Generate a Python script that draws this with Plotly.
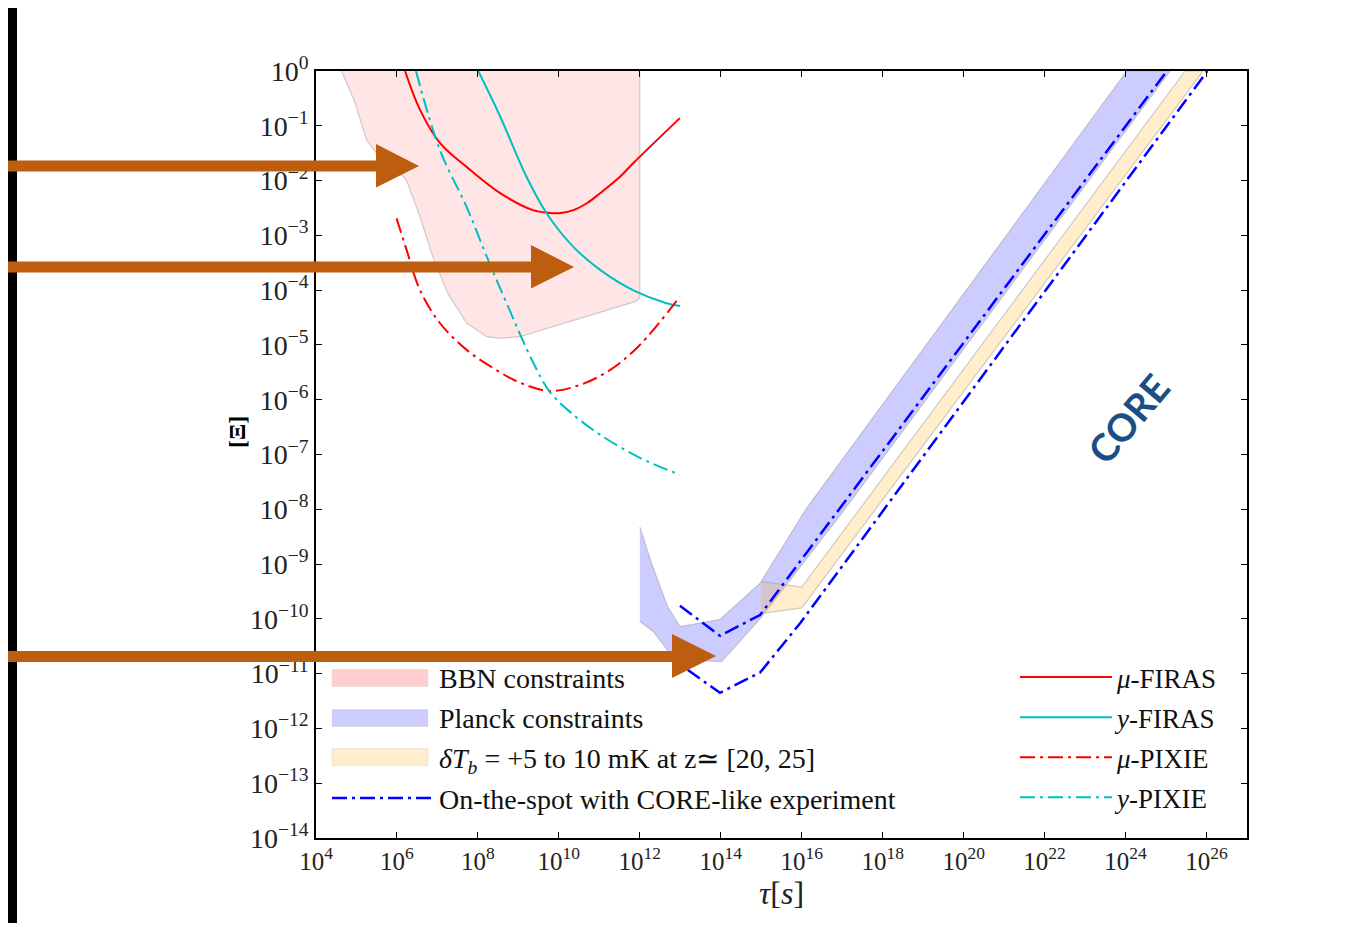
import plotly.graph_objects as go

# ---------------- data (log10 exponents) ----------------
# BBN constraints region (polygon)
bbn_log_tau = [4.63, 4.95, 5.25, 5.75, 6.15, 6.25, 6.55, 6.89, 7.25, 7.72, 8.22, 8.55, 9.04, 11.88, 12.0, 12.0]
bbn_log_xi = [0.0, -0.55, -1.26, -1.75, -1.92, -2.02, -2.62, -3.40, -4.05, -4.60, -4.85, -4.88, -4.85, -4.21, -4.15, 0.0]

# Planck constraints region (polygon)
planck_log_tau = [12.00, 12.32, 12.69, 12.99, 13.98, 14.97, 16.10, 24.03, 25.10, 16.94, 14.97, 14.02, 12.87, 12.33, 12.00]
planck_log_xi = [-8.32, -9.05, -9.78, -10.14, -10.01, -9.35, -8.00, 0.0, 0.0, -8.12, -10.00, -10.78, -10.75, -10.23, -10.05]

# 21cm brightness-temperature band (polygon)
tb_log_tau = [15.01, 16.00, 25.47, 25.92, 16.00, 15.01]
tb_log_xi = [-9.32, -9.42, 0.0, 0.0, -9.80, -9.90]

# FIRAS / PIXIE spectral distortion curves
mu_firas_log_tau = [6.20, 6.57, 7.06, 7.72, 8.55, 9.36, 9.78, 10.05, 10.36, 10.70, 11.02, 11.51, 11.84, 12.99]
mu_firas_log_xi = [0.0, -0.71, -1.31, -1.75, -2.23, -2.54, -2.59, -2.59, -2.54, -2.41, -2.23, -1.93, -1.68, -0.86]

y_firas_log_tau = [8.01, 8.55, 9.20, 9.70, 10.36, 11.02, 11.83, 12.66, 12.99]
y_firas_log_xi = [0.0, -0.83, -1.93, -2.60, -3.21, -3.63, -4.00, -4.24, -4.29]

mu_pixie_log_tau = [5.99, 6.24, 6.57, 7.06, 7.72, 8.37, 9.04, 9.78, 10.52, 11.26, 12.00, 12.99]
mu_pixie_log_xi = [-2.69, -3.27, -4.00, -4.60, -5.09, -5.42, -5.69, -5.84, -5.73, -5.46, -5.00, -4.12]

y_pixie_log_tau = [6.47, 7.06, 7.72, 8.22, 8.71, 9.37, 9.78, 10.27, 11.02, 12.00, 12.99]
y_pixie_log_xi = [0.0, -1.44, -2.48, -3.39, -4.24, -5.33, -5.86, -6.22, -6.64, -7.06, -7.37]

# On-the-spot with CORE-like experiment (two bounds)
core_hi_log_tau = [12.99, 13.98, 14.97, 25.02]
core_hi_log_xi = [-9.76, -10.31, -9.93, 0.0]
core_lo_log_tau = [13.18, 13.98, 14.97, 15.96, 26.02]
core_lo_log_xi = [-10.93, -11.35, -10.98, -10.08, 0.0]

x_tick_exps = list(range(4, 27, 2))
y_tick_exps = list(range(0, -15, -1))

# ---------------- layout geometry ----------------
# page pixels of the reference; the page body adds an 8px margin around the figure
PAGE_W, PAGE_H, OFF = 1367, 931, 8
W, H = PAGE_W - OFF, PAGE_H - 2 * OFF
L, R, T, B = 316, 1247, 71, 838  # plot area in page pixels


def px(x):
    return (x - L) / (R - L)


def py(y):
    return (B - y) / (B - T)


def pw(v):
    return [10.0 ** e for e in v]


SERIF = "Liberation Serif"
EDGE = "rgba(150,150,150,0.45)"
DD = "15px,5px,3px,5px"
CLEAR = "rgba(0,0,0,0)"

fig = go.Figure()

# filled regions
fig.add_trace(go.Scatter(x=pw(bbn_log_tau), y=pw(bbn_log_xi), fill="toself", mode="lines",
                         fillcolor="rgba(255,0,0,0.10)", line=dict(color=EDGE, width=1.2),
                         showlegend=False, hoverinfo="skip"))
fig.add_trace(go.Scatter(x=pw(planck_log_tau), y=pw(planck_log_xi), fill="toself", mode="lines",
                         fillcolor="rgba(0,0,255,0.20)", line=dict(color=EDGE, width=1.2),
                         showlegend=False, hoverinfo="skip"))
fig.add_trace(go.Scatter(x=pw(tb_log_tau), y=pw(tb_log_xi), fill="toself", mode="lines",
                         fillcolor="rgba(255,165,0,0.20)", line=dict(color=EDGE, width=1.2),
                         showlegend=False, hoverinfo="skip"))

# curves
fig.add_trace(go.Scatter(x=pw(mu_firas_log_tau), y=pw(mu_firas_log_xi), mode="lines",
                         line=dict(color="red", width=2, shape="spline"),
                         name="<i>μ</i>-FIRAS", legend="legend2", legendgroup="a"))
fig.add_trace(go.Scatter(x=pw(y_firas_log_tau), y=pw(y_firas_log_xi), mode="lines",
                         line=dict(color="#00BFBF", width=2, shape="spline"),
                         name="<i>y</i>-FIRAS", legend="legend2", legendgroup="b"))
fig.add_trace(go.Scatter(x=pw(mu_pixie_log_tau), y=pw(mu_pixie_log_xi), mode="lines",
                         line=dict(color="red", width=2, dash=DD, shape="spline"),
                         name="<i>μ</i>-PIXIE", legend="legend2", legendgroup="c"))
fig.add_trace(go.Scatter(x=pw(y_pixie_log_tau), y=pw(y_pixie_log_xi), mode="lines",
                         line=dict(color="#00BFBF", width=2, dash=DD, shape="spline"),
                         name="<i>y</i>-PIXIE", legend="legend2", legendgroup="d"))

fig.add_trace(go.Scatter(x=pw(core_hi_log_tau), y=pw(core_hi_log_xi), mode="lines",
                         line=dict(color="blue", width=2.5, dash=DD),
                         showlegend=False, hoverinfo="skip"))

# legend entries for the left legend (patches drawn as shapes below)
fig.add_trace(go.Scatter(x=[None], y=[None], mode="lines", line=dict(color=CLEAR, width=2),
                         name="BBN constraints", legend="legend", legendgroup="e"))
fig.add_trace(go.Scatter(x=[None], y=[None], mode="lines", line=dict(color=CLEAR, width=2),
                         name="Planck constraints", legend="legend", legendgroup="f"))
fig.add_trace(go.Scatter(x=[None], y=[None], mode="lines", line=dict(color=CLEAR, width=2),
                         name="<i>δT<sub>b</sub></i> = +5 to 10 mK at z≃ [20, 25]", legend="legend", legendgroup="g"))
fig.add_trace(go.Scatter(x=pw(core_lo_log_tau), y=pw(core_lo_log_xi), mode="lines",
                         line=dict(color="blue", width=2.5, dash=DD),
                         name="On-the-spot with CORE-like experiment", legend="legend", legendgroup="h"))

# ---------------- decorations ----------------
ORANGE = "#BD5D10"
shapes = []
# legend patches (page pixels)
patch_colors = ["#FFCECE", "#CCCCFF", "#FFEDCC"]
patch_centers = [678, 718, 757]
for c, yc in zip(patch_colors, patch_centers):
    shapes.append(dict(type="rect", xref="paper", yref="paper", x0=px(332), x1=px(428),
                       y0=py(yc + 8.5), y1=py(yc - 8.5), fillcolor=c,
                       line=dict(color="rgba(200,200,200,0.4)", width=0.8), layer="below"))

# black frame strips
shapes.append(dict(type="rect", xref="paper", yref="paper", x0=px(0), x1=px(17), y0=py(PAGE_H + 10), y1=py(-10),
                   fillcolor="black", line=dict(width=0), layer="above"))
shapes.append(dict(type="rect", xref="paper", yref="paper", x0=px(-10), x1=px(PAGE_W + 10), y0=py(7), y1=py(-10),
                   fillcolor="black", line=dict(width=0), layer="above"))
shapes.append(dict(type="rect", xref="paper", yref="paper", x0=px(1360), x1=px(PAGE_W + 10), y0=py(PAGE_H + 10),
                   y1=py(-10), fillcolor="black", line=dict(width=0), layer="above"))

# arrows: (shaft top, shaft bottom, head left, head top, head bottom, tip x, tip y)
arrows = [
    (160.5, 171.5, 375, 144, 187.5, 419, 166),
    (261.5, 272.5, 530, 245, 288.5, 574, 267),
    (651.0, 662.0, 671, 634, 678.0, 716, 656),
]
for st, sb, hl, ht, hb, tx, ty in arrows:
    path = (f"M{px(-10)},{py(st)} L{px(hl + 1)},{py(st)} L{px(hl + 1)},{py(ht)} L{px(tx)},{py(ty)} "
            f"L{px(hl + 1)},{py(hb)} L{px(hl + 1)},{py(sb)} L{px(-10)},{py(sb)} Z")
    shapes.append(dict(type="path", xref="paper", yref="paper", path=path,
                       fillcolor=ORANGE, line=dict(width=0), layer="above"))

annotations = [
    dict(text="<b>[Ξ]</b>", xref="paper", yref="paper", x=px(237), y=py(432), showarrow=False,
         textangle=-90, font=dict(family=SERIF, size=24, color="black"), xanchor="center", yanchor="middle"),
    dict(text="<b>CORE</b>", xref="paper", yref="paper", x=px(1128), y=py(418), showarrow=False,
         textangle=-50, font=dict(family="Lato", size=38, color="#1B4F84"), xanchor="center", yanchor="middle"),
]

axis_common = dict(type="log", showgrid=False, zeroline=False, showline=True, linecolor="black",
                   linewidth=1.5, mirror="ticks", ticks="inside", ticklen=6, tickwidth=1,
                   tickcolor="black")

fig.update_layout(
    width=W, height=H,
    margin=dict(l=L - OFF, r=W - (R - OFF), t=T - OFF, b=H - (B - OFF), pad=0),
    paper_bgcolor="white", plot_bgcolor="white",
    xaxis=dict(axis_common, range=[4, 27], tickmode="array",
               tickvals=[10.0 ** e for e in x_tick_exps],
               ticktext=[f"10<sup>{e}</sup>" for e in x_tick_exps],
               tickfont=dict(family=SERIF, size=25, color="#222"),
               title=dict(text="<i>τ</i>[<i>s</i>]", font=dict(family=SERIF, size=32, color="#222"), standoff=8)),
    yaxis=dict(axis_common, range=[-14, 0], tickmode="array",
               tickvals=[10.0 ** e for e in y_tick_exps],
               ticktext=[f"10<sup>{'−' if e < 0 else ''}{abs(e)}</sup>" for e in y_tick_exps],
               tickfont=dict(family=SERIF, size=28, color="#222")),
    legend=dict(x=px(327), y=py(652), xanchor="left", yanchor="top", bgcolor=CLEAR,
                font=dict(family=SERIF, size=28, color="#111"), itemwidth=102,
                traceorder="grouped", tracegroupgap=1),
    legend2=dict(x=px(1015), y=py(653), xanchor="left", yanchor="top", bgcolor=CLEAR,
                 font=dict(family=SERIF, size=27, color="#111"), itemwidth=92,
                 traceorder="grouped", tracegroupgap=2),
    shapes=shapes,
    annotations=annotations,
)

fig.write_html("out.html")
